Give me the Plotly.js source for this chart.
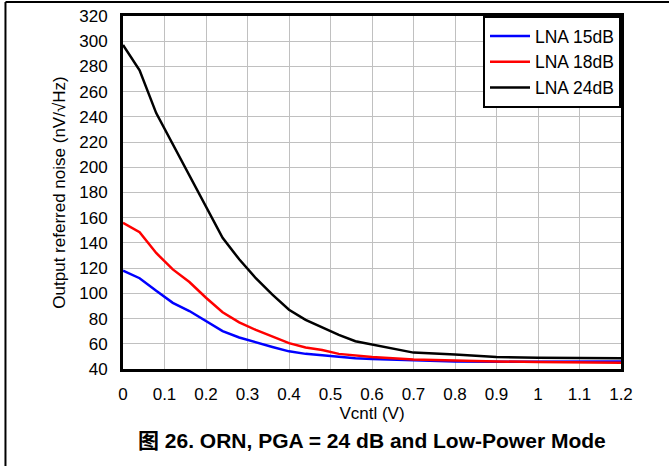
<!DOCTYPE html>
<html>
<head>
<meta charset="utf-8">
<script src="https://cdn.plot.ly/plotly-3.0.1.min.js"></script>
<style>html,body{margin:0;padding:0;background:#fff;}#chart{width:669px;height:466px;}</style>
</head>
<body>
<div id="chart"></div>
<script>
const vcntl = [0, 0.04, 0.08, 0.12, 0.16, 0.2, 0.24, 0.28, 0.32, 0.36, 0.4, 0.44, 0.48, 0.52, 0.56, 0.6, 0.7, 0.8, 0.9, 1.0, 1.1, 1.2];
const lna15 = [118, 112, 102, 92.5, 86, 78, 70, 65, 61, 57.5, 54, 52, 51, 49.5, 48.5, 48, 47, 46, 45.7, 45.7, 45.8, 46];
const lna18 = [156, 148.5, 132, 119, 109, 96.5, 85, 77, 71, 65.5, 60.5, 57, 55, 52, 50.5, 49.5, 47.5, 46.5, 46, 45.5, 45, 45];
const lna24 = [297, 277, 243, 218, 194, 168, 144, 127, 112, 99, 87, 79, 73, 67, 62, 59.5, 53, 51.5, 49.5, 49, 48.5, 48.5];
const seriesNames = ["LNA 15dB", "LNA 18dB", "LNA 24dB"];
const xTicks = [0, 0.1, 0.2, 0.3, 0.4, 0.5, 0.6, 0.7, 0.8, 0.9, 1, 1.1, 1.2];
const yTicks = [40, 60, 80, 100, 120, 140, 160, 180, 200, 220, 240, 260, 280, 300, 320];
const xTitle = "Vcntl (V)";
const yTitle = "Output referred noise (nV/√Hz)";
const caption = "图 26. ORN, PGA = 24 dB and Low-Power Mode";

const font = "Arial, 'Liberation Sans', 'Noto Sans CJK SC', sans-serif";
const colors = ["#0000ff", "#ff0000", "#000000"];
const data = [lna15, lna18, lna24].map((ys, i) => ({
  x: vcntl, y: ys, type: "scatter", mode: "lines", name: seriesNames[i],
  line: {color: colors[i], width: 2.5}
}));

const layout = {
  width: 669, height: 466,
  margin: {l: 123, r: 48, t: 16, b: 97},
  paper_bgcolor: "#fff", plot_bgcolor: "#fff",
  font: {family: font, size: 17, color: "#000"},
  showlegend: true,
  legend: {
    x: 1, y: 1, xanchor: "right", yanchor: "top",
    bgcolor: "#fff", bordercolor: "#000", borderwidth: 2,
    font: {family: font, size: 17.5, color: "#000"},
    tracegroupgap: 0, itemwidth: 40
  },
  xaxis: {
    range: [0, 1.2], tickvals: xTicks, ticktext: xTicks.map(String),
    showgrid: true, gridcolor: "#c0c0c0", gridwidth: 1,
    showline: true, linecolor: "#000", linewidth: 3, mirror: true,
    ticks: "", zeroline: false, ticklabelstandoff: 8,
    tickfont: {family: font, size: 17},
    title: {text: xTitle, font: {family: font, size: 17}, standoff: 2}
  },
  yaxis: {
    range: [40, 320], tickvals: yTicks,
    showgrid: true, gridcolor: "#c0c0c0", gridwidth: 1,
    showline: true, linecolor: "#000", linewidth: 3, mirror: true,
    ticks: "", zeroline: false, ticklabelstandoff: 9,
    tickfont: {family: font, size: 17},
    title: {text: yTitle, font: {family: font, size: 17}, standoff: 10}
  },
  annotations: [{
    text: "<b>" + caption + "</b>", xref: "paper", yref: "paper",
    x: 0.5, y: -0.203, xanchor: "center", yanchor: "middle", showarrow: false,
    font: {family: font, size: 21, color: "#000"}
  }],
  shapes: [
    {type: "line", xref: "paper", yref: "paper", x0: -0.236, x1: 1.2, y0: 1.04, y1: 1.04, line: {color: "#000", width: 2}},
    {type: "line", xref: "paper", yref: "paper", x0: -0.236, x1: -0.236, y0: 1.04, y1: -0.3, line: {color: "#000", width: 2}}
  ]
};
Plotly.newPlot("chart", data, layout, {displayModeBar: false, staticPlot: true});
</script>
</body>
</html>
